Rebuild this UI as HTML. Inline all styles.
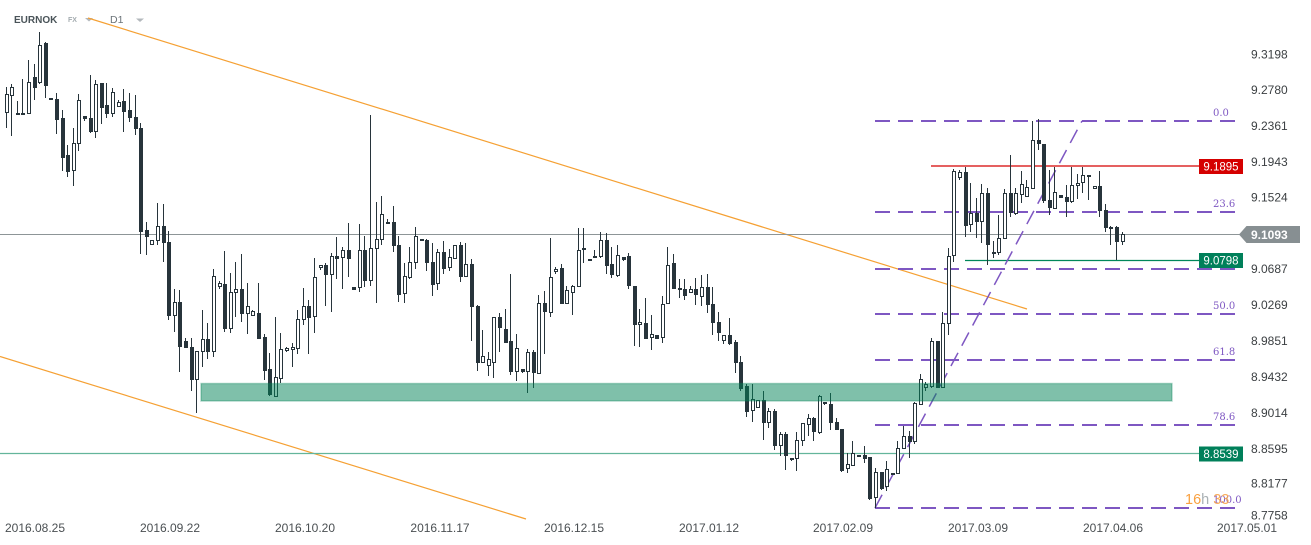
<!DOCTYPE html>
<html><head><meta charset="utf-8"><style>
html,body{margin:0;padding:0;background:#fff;}
svg{display:block;font-family:"Liberation Sans",sans-serif;}
</style></head><body>
<svg width="1311" height="545" viewBox="0 0 1311 545" xmlns="http://www.w3.org/2000/svg">
<rect width="1311" height="545" fill="#fff"/>
<!-- header -->
<text x="14" y="23" font-size="10" font-weight="bold" fill="#4a5459">EURNOK</text>
<text x="68" y="22" font-size="7" font-weight="bold" fill="#a3abaf">FX</text>
<path d="M85 18h8l-4 3.5z" fill="#b3b8bc"/>
<text x="110" y="23" font-size="10.5" fill="#6b7378">D1</text>
<path d="M136 18.5h8l-4 3.5z" fill="#b3b8bc"/>
<!-- orange trendlines -->
<line x1="88" y1="18" x2="1027" y2="309" stroke="#f5a033" stroke-width="1.2"/>
<line x1="0" y1="356.5" x2="526" y2="519" stroke="#f5a033" stroke-width="1.2"/>
<!-- horizontal lines -->
<line x1="0" y1="234.5" x2="1242" y2="234.5" stroke="#8d9597" stroke-width="1"/>
<line x1="931" y1="166" x2="1199" y2="166" stroke="#d50000" stroke-width="1.2"/>
<line x1="965" y1="260.5" x2="1199" y2="260.5" stroke="#00875a" stroke-width="1.2"/>
<line x1="0" y1="453.5" x2="1199" y2="453.5" stroke="#63b59b" stroke-width="1.2"/>
<!-- fib levels -->
<g stroke="#7e57c2" stroke-width="2" stroke-dasharray="15 8">
<line x1="875" y1="121" x2="1236" y2="121"/>
<line x1="875" y1="212" x2="1236" y2="212"/>
<line x1="875" y1="269" x2="1236" y2="269"/>
<line x1="875" y1="314" x2="1236" y2="314"/>
<line x1="875" y1="360" x2="1236" y2="360"/>
<line x1="875" y1="425" x2="1236" y2="425"/>
<line x1="875" y1="508" x2="1236" y2="508"/>
</g>
<line x1="875" y1="508" x2="1082" y2="121" stroke="#7e57c2" stroke-width="1.5" stroke-dasharray="15 8"/>
<g font-family="'DejaVu Serif',serif" font-size="10" fill="#7e57c2">
<text x="1213" y="116">0.0</text>
<text x="1213" y="207">23.6</text>
<text x="1213" y="309">50.0</text>
<text x="1213" y="355">61.8</text>
<text x="1213" y="420">78.6</text>
<text x="1213" y="503">100.0</text>
</g>
<!-- candles: wicks -->
<path fill="none" stroke="#27343b" stroke-width="1" d="M6.5 87V128M11.5 84V136M17.5 101V115M22.5 79V115M28.5 60V114M34.5 64V100M39.5 32V84M45.5 42V98M50.5 98V100M56.5 93V134M62.5 110V171M67.5 145V177M73.5 128V186M78.5 94V151M84.5 116V121M90.5 75V133M95.5 80V138M101.5 83V124M106.5 83V118M112.5 88V117M118.5 100V107M123.5 89V132M129.5 93V122M135.5 95V135M140.5 123V254M146.5 222V255M151.5 240V245M157.5 203V245M163.5 204V262M168.5 231V320M174.5 289V332M179.5 290V372M185.5 338V348M191.5 338V391M196.5 351V413M202.5 310V367M207.5 323V359M213.5 269V357M219.5 281V289M224.5 251V332M230.5 273V333M235.5 262V317M241.5 254V322M247.5 283V334M252.5 310V316M258.5 283V339M264.5 334V380M269.5 353V396M275.5 317V397M280.5 333V383M286.5 347V352M292.5 343V367M297.5 310V354M303.5 288V325M308.5 300V354M314.5 258V333M320.5 265V270M325.5 263V306M331.5 253V312M336.5 237V279M342.5 247V289M348.5 223V277M353.5 287V290M359.5 224V292M364.5 236V287M370.5 115V286M376.5 202V303M381.5 196V245M387.5 219V224M393.5 206V252M398.5 236V302M404.5 263V303M409.5 247V279M415.5 227V269M421.5 239V241M426.5 239V271M432.5 243V296M437.5 249V290M443.5 241V274M449.5 249V271M454.5 245V259M460.5 242V282M465.5 243V277M471.5 259V341M477.5 305V371M482.5 330V363M488.5 352V376M493.5 317V378M499.5 313V352M505.5 309V343M510.5 274V375M516.5 334V381M522.5 369V373M527.5 349V393M533.5 350V388M538.5 295V374M544.5 291V354M550.5 238V317M555.5 267V274M561.5 264V304M566.5 286V304M572.5 285V315M578.5 228V287M583.5 228V263M589.5 259V261M594.5 250V258M600.5 232V258M606.5 233V274M611.5 247V278M617.5 245V277M623.5 257V261M628.5 253V289M634.5 286V346M639.5 309V347M645.5 298V339M651.5 315V350M656.5 335V339M662.5 296V343M667.5 247V304M673.5 254V289M679.5 279V298M684.5 279V300M690.5 286V293M695.5 278V305M701.5 275V306M707.5 274V313M712.5 287V335M718.5 312V341M723.5 335V344M729.5 318V345M735.5 340V373M740.5 356V391M746.5 384V417M752.5 384V422M757.5 400V408M763.5 391V440M768.5 408V428M774.5 409V450M780.5 432V456M785.5 432V470M791.5 458V461M796.5 432V471M802.5 423V446M808.5 414V436M813.5 417V441M819.5 395V434M824.5 402V405M830.5 393V430M836.5 418V430M841.5 429V472M847.5 453V473M852.5 441V466M858.5 455V457M864.5 446V463M869.5 457V500M875.5 468V508M881.5 472V490M886.5 461V491M892.5 473V475M897.5 441V474M903.5 426V449M909.5 431V458M914.5 402V444M920.5 374V405M925.5 382V391M931.5 338V388M937.5 341V388M942.5 312V388M948.5 248V335M953.5 169V262M959.5 170V180M965.5 167V237M970.5 183V232M976.5 198V238M981.5 184V243M987.5 188V265M993.5 241V258M998.5 215V255M1004.5 189V239M1010.5 155V217M1015.5 188V215M1021.5 171V203M1026.5 180V197M1032.5 121V189M1038.5 119V150M1043.5 144V203M1049.5 170V215M1054.5 167V209M1060.5 195V198M1066.5 185V217M1071.5 167V203M1077.5 174V199M1082.5 167V193M1088.5 175V200M1094.5 186V189M1099.5 171V217M1105.5 204V232M1110.5 226V245M1116.5 226V260M1122.5 232V245"/>
<!-- hollow bodies -->
<path fill="#fff" stroke="#27343b" stroke-width="1" d="M5.5 94.5h3v18h-3zM10.5 87.5h3v8h-3zM27.5 82.5h3v31h-3zM38.5 45.5h3v37h-3zM72.5 143.5h3v27h-3zM77.5 100.5h3v43h-3zM94.5 84.5h3v47h-3zM111.5 92.5h3v21h-3zM117.5 102.5h3v4h-3zM150.5 240.5h3v4h-3zM156.5 226.5h3v14h-3zM173.5 302.5h3v13h-3zM195.5 351.5h3v28h-3zM201.5 339.5h3v12h-3zM212.5 276.5h3v75h-3zM218.5 283.5h3v3h-3zM229.5 292.5h3v36h-3zM234.5 289.5h3v3h-3zM246.5 306.5h3v7h-3zM251.5 311.5h3v4h-3zM274.5 377.5h3v19h-3zM279.5 349.5h3v29h-3zM285.5 348.5h3v2h-3zM291.5 347.5h3v2h-3zM296.5 319.5h3v29h-3zM302.5 306.5h3v13h-3zM313.5 277.5h3v39h-3zM319.5 265.5h3v2h-3zM330.5 256.5h3v18h-3zM341.5 250.5h3v7h-3zM358.5 250.5h3v37h-3zM369.5 248.5h3v32h-3zM375.5 239.5h3v9h-3zM380.5 214.5h3v25h-3zM386.5 222.5h3v1h-3zM403.5 276.5h3v17h-3zM408.5 262.5h3v15h-3zM414.5 236.5h3v26h-3zM436.5 252.5h3v31h-3zM448.5 257.5h3v10h-3zM453.5 245.5h3v13h-3zM464.5 264.5h3v12h-3zM481.5 356.5h3v6h-3zM487.5 359.5h3v6h-3zM492.5 317.5h3v45h-3zM515.5 348.5h3v23h-3zM526.5 352.5h3v19h-3zM537.5 303.5h3v70h-3zM549.5 277.5h3v35h-3zM554.5 269.5h3v2h-3zM565.5 290.5h3v13h-3zM571.5 286.5h3v6h-3zM577.5 250.5h3v36h-3zM582.5 248.5h3v1h-3zM599.5 240.5h3v16h-3zM616.5 255.5h3v20h-3zM638.5 322.5h3v2h-3zM650.5 334.5h3v3h-3zM661.5 304.5h3v33h-3zM666.5 265.5h3v38h-3zM689.5 289.5h3v3h-3zM700.5 287.5h3v9h-3zM722.5 335.5h3v5h-3zM751.5 399.5h3v11h-3zM756.5 400.5h3v7h-3zM767.5 411.5h3v11h-3zM779.5 434.5h3v11h-3zM795.5 440.5h3v18h-3zM801.5 423.5h3v17h-3zM807.5 418.5h3v6h-3zM818.5 396.5h3v36h-3zM846.5 464.5h3v4h-3zM851.5 453.5h3v12h-3zM874.5 472.5h3v25h-3zM885.5 469.5h3v17h-3zM891.5 473.5h3v1h-3zM896.5 448.5h3v25h-3zM902.5 436.5h3v12h-3zM913.5 403.5h3v38h-3zM919.5 379.5h3v25h-3zM924.5 384.5h3v3h-3zM930.5 341.5h3v45h-3zM941.5 323.5h3v64h-3zM947.5 256.5h3v67h-3zM952.5 171.5h3v84h-3zM958.5 172.5h3v5h-3zM969.5 213.5h3v11h-3zM980.5 193.5h3v28h-3zM992.5 252.5h3v1h-3zM997.5 238.5h3v14h-3zM1003.5 193.5h3v45h-3zM1014.5 193.5h3v20h-3zM1020.5 184.5h3v10h-3zM1025.5 187.5h3v9h-3zM1031.5 140.5h3v48h-3zM1053.5 192.5h3v16h-3zM1070.5 185.5h3v16h-3zM1076.5 183.5h3v2h-3zM1081.5 175.5h3v7h-3zM1093.5 186.5h3v2h-3zM1121.5 234.5h3v7h-3z"/>
<!-- dark bodies -->
<path fill="#27343b" d="M16 113h4v2h-4zM21 113h4v2h-4zM33 77h4v11h-4zM44 43h4v43h-4zM49 98h4v2h-4zM55 99h4v21h-4zM61 118h4v40h-4zM66 155h4v17h-4zM83 116h4v3h-4zM89 118h4v14h-4zM100 83h4v25h-4zM105 105h4v9h-4zM122 101h4v11h-4zM128 110h4v8h-4zM134 117h4v12h-4zM139 128h4v104h-4zM145 230h4v7h-4zM162 226h4v17h-4zM167 242h4v74h-4zM178 302h4v45h-4zM184 341h4v7h-4zM190 347h4v33h-4zM206 339h4v13h-4zM223 284h4v45h-4zM240 289h4v25h-4zM257 313h4v26h-4zM263 337h4v34h-4zM268 369h4v26h-4zM307 306h4v12h-4zM324 265h4v10h-4zM335 256h4v3h-4zM347 250h4v9h-4zM352 287h4v3h-4zM363 250h4v31h-4zM392 222h4v24h-4zM397 245h4v50h-4zM420 239h4v2h-4zM425 240h4v23h-4zM431 262h4v23h-4zM442 252h4v17h-4zM459 245h4v32h-4zM470 264h4v43h-4zM476 306h4v57h-4zM498 317h4v11h-4zM504 329h4v14h-4zM509 341h4v31h-4zM521 369h4v3h-4zM532 352h4v21h-4zM543 303h4v9h-4zM560 268h4v36h-4zM588 259h4v2h-4zM593 256h4v2h-4zM605 240h4v26h-4zM610 264h4v11h-4zM622 257h4v3h-4zM627 256h4v30h-4zM633 286h4v39h-4zM644 323h4v16h-4zM655 335h4v4h-4zM672 263h4v26h-4zM678 288h4v2h-4zM683 289h4v7h-4zM694 289h4v6h-4zM706 287h4v18h-4zM711 304h4v19h-4zM717 322h4v11h-4zM728 335h4v9h-4zM734 342h4v21h-4zM739 362h4v27h-4zM745 386h4v26h-4zM762 400h4v23h-4zM773 411h4v35h-4zM784 434h4v22h-4zM790 458h4v2h-4zM812 418h4v14h-4zM823 402h4v2h-4zM829 404h4v19h-4zM835 422h4v8h-4zM840 429h4v42h-4zM857 455h4v2h-4zM863 455h4v4h-4zM868 457h4v42h-4zM880 472h4v17h-4zM908 436h4v6h-4zM936 341h4v47h-4zM964 172h4v54h-4zM975 213h4v9h-4zM986 193h4v52h-4zM1009 193h4v20h-4zM1037 140h4v4h-4zM1042 144h4v57h-4zM1048 200h4v8h-4zM1059 195h4v3h-4zM1065 197h4v5h-4zM1087 175h4v2h-4zM1098 186h4v25h-4zM1104 210h4v18h-4zM1109 227h4v2h-4zM1115 227h4v15h-4z"/>
<!-- support zone -->
<rect x="201" y="383.5" width="971" height="17.5" fill="rgb(0,130,86)" fill-opacity="0.5" stroke="rgb(0,130,86)" stroke-opacity="0.3" stroke-width="1.5"/>
<!-- price labels -->
<rect x="1199" y="159" width="44" height="15" fill="#d50000"/>
<text x="1221" y="170.5" font-size="11.5" fill="#fff" text-anchor="middle">9.1895</text>
<rect x="1199" y="253" width="44" height="15" fill="#00805a"/>
<text x="1221" y="264.5" font-size="11.5" fill="#fff" text-anchor="middle">9.0798</text>
<rect x="1199" y="446.5" width="44" height="15" fill="#00805a"/>
<text x="1221" y="458" font-size="11.5" fill="#fff" text-anchor="middle">8.8539</text>
<path d="M1239 234.5L1246.5 226H1300V243H1246.5Z" fill="#878f92"/>
<text x="1251" y="239" font-size="12" font-weight="bold" fill="#fff">9.1093</text>
<!-- countdown -->
<text x="1185" y="504" font-size="14.5"><tspan fill="#f9a03f">16</tspan><tspan fill="#a9b0b4">h </tspan><tspan fill="#f9a03f" fill-opacity="0.85">33</tspan></text>
<!-- right axis -->
<g font-size="12" fill="#3c4043">
<text x="1251" y="58.3">9.3198</text>
<text x="1251" y="94.2">9.2780</text>
<text x="1251" y="130">9.2361</text>
<text x="1251" y="165.9">9.1943</text>
<text x="1251" y="201.7">9.1524</text>
<text x="1251" y="273">9.0687</text>
<text x="1251" y="309">9.0269</text>
<text x="1251" y="345">8.9851</text>
<text x="1251" y="381">8.9432</text>
<text x="1251" y="416.9">8.9014</text>
<text x="1251" y="452.8">8.8595</text>
<text x="1251" y="487.5">8.8177</text>
<text x="1251" y="519.3">8.7758</text>
</g>
<!-- date axis -->
<g font-size="12" fill="#4a4f52" text-anchor="middle">
<text x="35" y="532">2016.08.25</text>
<text x="170" y="532">2016.09.22</text>
<text x="305" y="532">2016.10.20</text>
<text x="440" y="532">2016.11.17</text>
<text x="574" y="532">2016.12.15</text>
<text x="709" y="532">2017.01.12</text>
<text x="843" y="532">2017.02.09</text>
<text x="978" y="532">2017.03.09</text>
<text x="1113" y="532">2017.04.06</text>
<text x="1247" y="532">2017.05.01</text>
</g>
</svg>
</body></html>
